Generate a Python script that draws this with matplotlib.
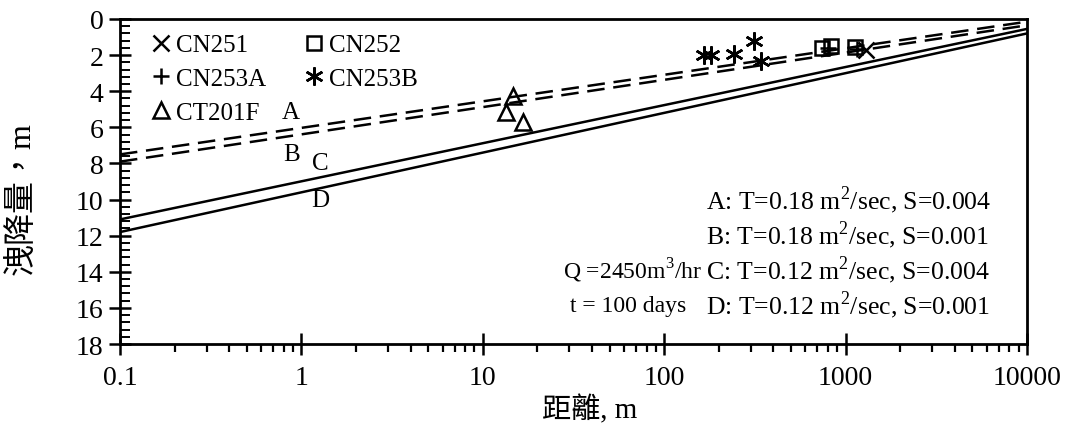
import matplotlib
matplotlib.use("Agg")
import matplotlib.pyplot as plt
from matplotlib.ticker import MultipleLocator, FixedLocator, NullFormatter

plt.rcParams['font.family'] = ['Liberation Serif', 'Noto Sans CJK TC']
plt.rcParams['mathtext.fontset'] = 'custom'
plt.rcParams['mathtext.rm'] = 'Liberation Serif'

# theoretical lines (end points, distance m -> drawdown m)
line_x = [0.1, 10000]
line_A = [7.5, 0.15]
line_B = [7.9, 0.35]
line_C = [11.1, 0.55]
line_D = [11.8, 0.8]

# observed wells
cn251_x = [1300]
cn251_y = [1.7]
cn252_x = [740, 830, 1120]
cn252_y = [1.6, 1.5, 1.55]
cn253a_x = [800, 1150]
cn253a_y = [1.6, 1.65]
cn253b_x = [166, 182, 244, 314, 343]
cn253b_y = [2.0, 2.0, 1.95, 1.2, 2.3]
ct201f_x = [13.4, 14.6, 16.6]
ct201f_y = [5.15, 4.25, 5.7]

x_ticks = [0.1, 1, 10, 100, 1000, 10000]
x_ticklabels = ['0.1', '1', '10', '100', '1000', '10000']

fig = plt.figure(figsize=(10.84, 4.27), dpi=100)
ax = fig.add_axes([0.1107, 0.192, 0.8367, 0.7612])

lw = 1.8
ax.plot(line_x, line_A, color='black', lw=lw, dashes=(7, 3.5))
ax.plot(line_x, line_B, color='black', lw=lw, dashes=(7, 3.5))
ax.plot(line_x, line_C, color='black', lw=lw)
ax.plot(line_x, line_D, color='black', lw=lw)

ms = 11
h1, = ax.plot(cn251_x, cn251_y, ls='none', marker='x', ms=ms, mew=1.8, color='black', label='CN251')
h2, = ax.plot(cn252_x, cn252_y, ls='none', marker='s', ms=ms - 1, mew=1.8, mfc='none', color='black', label='CN252')
h3, = ax.plot(cn253a_x, cn253a_y, ls='none', marker='+', ms=ms, mew=1.8, color='black', label='CN253A')
h4, = ax.plot(cn253b_x, cn253b_y, ls='none', marker=(6, 2, 0), ms=ms + 2, mew=1.8, color='black', label='CN253B')
h5, = ax.plot(ct201f_x, ct201f_y, ls='none', marker='^', ms=ms, mew=1.8, mfc='none', color='black', label='CT201F')

ax.legend(handles=[h1, h3, h5, h2, h4], ncol=2, loc='upper left', frameon=False,
          fontsize=18, handletextpad=0.0, handlelength=1.2, columnspacing=1.3,
          labelspacing=0.45, borderaxespad=0.2, bbox_to_anchor=(0.012, 1.0))

# curve labels
ax.text(0.87, 5.15, 'A', fontsize=18, ha='center', va='center')
ax.text(0.88, 7.45, 'B', fontsize=18, ha='center', va='center')
ax.text(1.27, 7.95, 'C', fontsize=18, ha='center', va='center')
ax.text(1.27, 10.05, 'D', fontsize=18, ha='center', va='center')

params = ['A: T=0.18 m$^2$/sec, S=0.004',
          'B: T=0.18 m$^2$/sec, S=0.001',
          'C: T=0.12 m$^2$/sec, S=0.004',
          'D: T=0.12 m$^2$/sec, S=0.001']
for i, s in enumerate(params):
    ax.text(0.646, 0.446 - i * 0.108, s, transform=ax.transAxes, fontsize=18.5,
            ha='left', va='center')
ax.text(0.488, 0.228, 'Q =2450m$^3$/hr', transform=ax.transAxes, fontsize=17,
        ha='left', va='center')
ax.text(0.496, 0.12, 't = 100 days', transform=ax.transAxes, fontsize=17,
        ha='left', va='center')

ax.set_xscale('log')
ax.set_xlim(0.1, 10000)
ax.set_ylim(18, 0)
ax.xaxis.set_major_locator(FixedLocator(x_ticks))
ax.set_xticklabels(x_ticklabels)
ax.xaxis.set_minor_formatter(NullFormatter())
ax.yaxis.set_major_locator(MultipleLocator(2))
ax.yaxis.set_minor_locator(MultipleLocator(0.4))

for sp in ax.spines.values():
    sp.set_linewidth(2.0)

ax.tick_params(axis='x', which='major', direction='inout', length=16, width=1.8,
               labelsize=20, pad=7)
ax.tick_params(axis='x', which='minor', direction='out', length=6, width=1.6)
ax.tick_params(axis='y', which='major', direction='inout', length=16, width=1.8,
               labelsize=20, pad=4)
ax.tick_params(axis='y', which='minor', direction='in', length=7, width=1.4)

ax.set_xlabel('距離, m', fontsize=21)
ax.xaxis.set_label_coords(0.518, -0.155)
ax.set_ylabel('洩降量，m', fontsize=23)
ax.yaxis.set_label_coords(-0.092, 0.45)

fig.savefig('out.png', dpi=100)
